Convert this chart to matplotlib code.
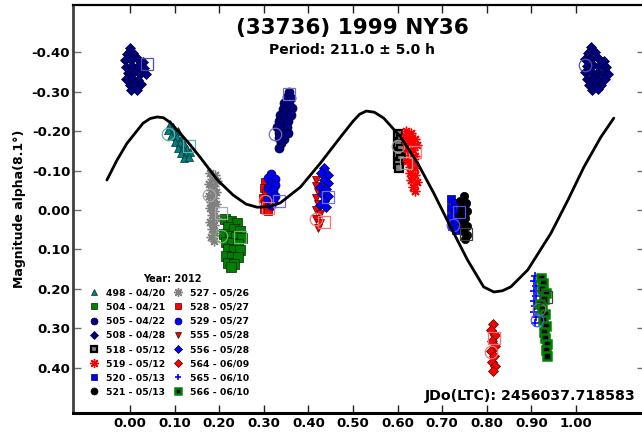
import matplotlib
matplotlib.use("Agg")
import matplotlib.pyplot as plt
from matplotlib.lines import Line2D

plt.rcParams['font.family'] = ['DejaVu Sans']

# ---------------- data ----------------
x_ticks = [0.0, 0.1, 0.2, 0.3, 0.4, 0.5, 0.6, 0.7, 0.8, 0.9, 1.0]
x_labels = ["0.00", "0.10", "0.20", "0.30", "0.40", "0.50", "0.60", "0.70", "0.80", "0.90", "1.00"]
y_ticks = [-0.4, -0.3, -0.2, -0.1, 0.0, 0.1, 0.2, 0.3, 0.4]
y_labels = ["-0.40", "-0.30", "-0.20", "-0.10", "0.00", "0.10", "0.20", "0.30", "0.40"]

curve_phase = [-0.052, -0.030, -0.007, 0.029, 0.045, 0.061, 0.075, 0.090, 0.112, 0.135, 0.157, 0.196,
               0.231, 0.260, 0.285, 0.310, 0.337, 0.382, 0.427, 0.472, 0.500, 0.515, 0.530, 0.548,
               0.569, 0.607, 0.645, 0.681, 0.719, 0.757, 0.793, 0.816, 0.835, 0.854, 0.892, 0.944,
               0.982, 1.018, 1.056, 1.085]
curve_mag = [-0.076, -0.125, -0.169, -0.220, -0.232, -0.236, -0.234, -0.222, -0.195, -0.165, -0.134, -0.076,
             -0.038, -0.015, -0.007, -0.008, -0.018, -0.058, -0.119, -0.185, -0.225, -0.243, -0.251, -0.248,
             -0.233, -0.185, -0.119, -0.043, 0.043, 0.127, 0.195, 0.208, 0.205, 0.195, 0.152, 0.059,
             -0.025, -0.109, -0.185, -0.233]

# 498 - 04/20
s498_phase = [0.090, 0.097, 0.085, 0.099, 0.108, 0.092, 0.106, 0.115, 0.101, 0.112, 0.121, 0.108, 0.119,
              0.128, 0.115, 0.126, 0.135, 0.121, 0.133]
s498_mag = [-0.218, -0.210, -0.203, -0.198, -0.200, -0.188, -0.185, -0.180, -0.172, -0.170, -0.167, -0.157,
            -0.155, -0.155, -0.144, -0.142, -0.147, -0.132, -0.134]
# 504 - 04/21
s504_phase = [0.213, 0.227, 0.240, 0.220, 0.234, 0.247, 0.211, 0.225, 0.238, 0.252, 0.216, 0.229, 0.243,
              0.220, 0.234, 0.247, 0.216, 0.229, 0.243, 0.220, 0.234, 0.227]
s504_mag = [0.023, 0.028, 0.033, 0.043, 0.048, 0.054, 0.061, 0.066, 0.069, 0.071, 0.081, 0.084, 0.087,
            0.099, 0.102, 0.102, 0.117, 0.120, 0.120, 0.135, 0.137, 0.145]
# 505 - 04/22
s505_phase = [0.357, 0.351, 0.362, 0.346, 0.357, 0.342, 0.353, 0.364, 0.337, 0.348, 0.360, 0.333, 0.344,
              0.355, 0.330, 0.342, 0.353, 0.333, 0.344, 0.355, 0.335, 0.346, 0.339, 0.333]
s505_mag = [-0.299, -0.287, -0.284, -0.271, -0.269, -0.256, -0.254, -0.259, -0.241, -0.238, -0.241, -0.226,
            -0.223, -0.226, -0.211, -0.208, -0.211, -0.195, -0.193, -0.195, -0.183, -0.180, -0.170, -0.157]
# 508 - 04/28
s508_phase = [0.000, -0.007, 0.007, -0.011, 0.002, 0.016, 0.029, -0.009, 0.004, 0.018, 0.031, -0.004,
              0.009, 0.022, 0.036, -0.009, 0.004, 0.018, 0.000, 0.011, 0.025, 0.002, 0.016,
              1.034, 1.027, 1.043, 1.020, 1.034, 1.049, 1.063, 1.025, 1.038, 1.052, 1.067, 1.020,
              1.034, 1.047, 1.061, 1.072, 1.025, 1.038, 1.052, 1.065, 1.029, 1.043, 1.056, 1.036, 1.049]
s508_mag = [-0.411, -0.396, -0.399, -0.381, -0.381, -0.386, -0.375, -0.363, -0.365, -0.365, -0.360, -0.347,
            -0.350, -0.345, -0.345, -0.332, -0.332, -0.330, -0.317, -0.315, -0.320, -0.304, -0.304,
            -0.413, -0.398, -0.401, -0.383, -0.383, -0.386, -0.378, -0.365, -0.368, -0.365, -0.363, -0.350,
            -0.350, -0.347, -0.347, -0.345, -0.332, -0.332, -0.330, -0.332, -0.317, -0.315, -0.317, -0.304, -0.307]
# 518 - 05/12
s518_phase = [0.602, 0.607, 0.600, 0.607, 0.602, 0.607, 0.602, 0.604]
s518_mag = [-0.193, -0.180, -0.167, -0.155, -0.142, -0.129, -0.117, -0.106]
# 519 - 05/12
s519_phase = [0.620, 0.631, 0.616, 0.627, 0.638, 0.620, 0.631, 0.643, 0.622, 0.634, 0.627, 0.638, 0.622,
              0.634, 0.627, 0.638, 0.629, 0.640, 0.631, 0.643, 0.634, 0.640]
s519_mag = [-0.200, -0.195, -0.185, -0.183, -0.180, -0.170, -0.167, -0.165, -0.155, -0.152, -0.139, -0.137,
            -0.124, -0.122, -0.109, -0.106, -0.094, -0.089, -0.076, -0.071, -0.058, -0.048]
# 520 - 05/13
s520_phase = [0.719, 0.728, 0.719, 0.728, 0.719, 0.728, 0.721, 0.730]
s520_mag = [-0.028, -0.018, -0.005, 0.005, 0.018, 0.028, 0.041, 0.051]
# 521 - 05/13
s521_phase = [0.748, 0.739, 0.753, 0.744, 0.755, 0.739, 0.751, 0.744, 0.755, 0.746, 0.755, 0.751]
s521_mag = [-0.035, -0.023, -0.018, -0.005, 0.003, 0.013, 0.021, 0.033, 0.041, 0.054, 0.064, 0.074]
# 527 - 05/26
s527_phase = [0.180, 0.191, 0.184, 0.196, 0.178, 0.189, 0.182, 0.193, 0.178, 0.189, 0.182, 0.193, 0.180,
              0.189, 0.184, 0.193, 0.180, 0.189, 0.184, 0.191, 0.182, 0.189]
s527_mag = [-0.094, -0.089, -0.078, -0.073, -0.066, -0.061, -0.051, -0.045, -0.035, -0.030, -0.020, -0.015,
            -0.005, 0.003, 0.013, 0.021, 0.031, 0.038, 0.048, 0.059, 0.069, 0.079]
# 528 - 05/27
s528_phase = [0.303, 0.301, 0.306, 0.299, 0.308, 0.303, 0.312, 0.301, 0.310]
s528_mag = [-0.071, -0.056, -0.043, -0.030, -0.025, -0.015, -0.010, -0.002, 0.003]
# 529 - 05/27
s529_phase = [0.317, 0.310, 0.324, 0.315, 0.326, 0.310, 0.321, 0.315, 0.326, 0.310, 0.321, 0.317]
s529_mag = [-0.091, -0.081, -0.078, -0.068, -0.063, -0.056, -0.051, -0.040, -0.035, -0.028, -0.023, -0.012]
# 555 - 05/28
s555_phase = [0.418, 0.416, 0.422, 0.416, 0.422, 0.418, 0.425, 0.418, 0.427, 0.422]
s555_mag = [-0.076, -0.061, -0.045, -0.030, -0.015, 0.000, 0.010, 0.023, 0.033, 0.046]
# 556 - 05/28
s556_phase = [0.436, 0.429, 0.443, 0.434, 0.445, 0.427, 0.440, 0.431, 0.445, 0.436, 0.427, 0.440]
s556_mag = [-0.106, -0.094, -0.089, -0.076, -0.068, -0.058, -0.053, -0.040, -0.035, -0.023, -0.012, -0.007]
# 564 - 06/09
s564_phase = [0.813, 0.809, 0.818, 0.811, 0.818, 0.809, 0.816, 0.811, 0.818, 0.813]
s564_mag = [0.290, 0.305, 0.318, 0.333, 0.345, 0.358, 0.371, 0.386, 0.396, 0.409]
# 565 - 06/10
s565_phase = [0.908, 0.906, 0.910, 0.906, 0.910, 0.906, 0.908, 0.906, 0.910, 0.908]
s565_mag = [0.168, 0.180, 0.193, 0.206, 0.218, 0.231, 0.244, 0.259, 0.272, 0.287]
# 566 - 06/10
s566_phase = [0.921, 0.926, 0.924, 0.933, 0.928, 0.919, 0.924, 0.930, 0.926, 0.933, 0.928, 0.930, 0.935,
              0.933, 0.935]
s566_mag = [0.173, 0.186, 0.201, 0.211, 0.226, 0.239, 0.252, 0.264, 0.279, 0.295, 0.310, 0.325, 0.340,
            0.355, 0.371]

# open first/last point markers
open_circle_phase = [0.085, 0.178, 0.204, 0.324, 0.303, 0.416, 0.602, 0.724, 0.809, 0.917, 0.912, 1.020]
open_circle_mag = [-0.193, -0.038, 0.066, -0.193, -0.023, 0.023, -0.162, 0.038, 0.360, 0.252, 0.279, -0.368]
open_circle_color = ['#60b0b0', '#a8a8a8', '#70b070', '#7070c8', '#ff7070', '#ff7070', '#a0a0a0',
                     '#5050ff', '#ff7070', '#707070', '#5050ff', '#5050b0']
open_square_phase = [0.038, 0.133, 0.204, 0.247, 0.357, 0.310, 0.335, 0.445, 0.436, 0.620, 0.640,
                     0.737, 0.753, 0.816, 0.933]
open_square_mag = [-0.370, -0.162, 0.008, 0.069, -0.294, -0.005, -0.023, -0.033, 0.031, -0.119, -0.147,
                   0.005, 0.061, 0.325, 0.221]
open_square_color = ['#5050b0', '#60b0b0', '#a8a8a8', '#70b070', '#7070c8', '#ff7070', '#7070ff',
                     '#7070ff', '#ff7070', '#a0a0a0', '#ff8080', '#5050ff', '#404040', '#ff7070', '#404040']

AST = (8, 2, 0)
sessions = [
    ("498 - 04/20", s498_phase, s498_mag, dict(marker='^', mfc='#008080', mec='#003030', mew=0.5, ms=6)),
    ("504 - 04/21", s504_phase, s504_mag, dict(marker='s', mfc='#008000', mec='#002000', mew=0.5, ms=6.5)),
    ("505 - 04/22", s505_phase, s505_mag, dict(marker='o', mfc='#000080', mec='#000030', mew=0.5, ms=6.5)),
    ("508 - 04/28", s508_phase, s508_mag, dict(marker='D', mfc='#000080', mec='#000030', mew=0.5, ms=5.5)),
    ("518 - 05/12", s518_phase, s518_mag, dict(marker='s', mfc='#808080', mec='black', mew=1.6, ms=5.5)),
    ("519 - 05/12", s519_phase, s519_mag, dict(marker=AST, mfc='red', mec='red', mew=1.0, ms=7)),
    ("520 - 05/13", s520_phase, s520_mag, dict(marker='s', mfc='#0000ff', mec='#000040', mew=0.5, ms=6)),
    ("521 - 05/13", s521_phase, s521_mag, dict(marker='o', mfc='black', mec='black', mew=0.5, ms=6)),
    ("527 - 05/26", s527_phase, s527_mag, dict(marker=AST, mfc='#808080', mec='#808080', mew=1.0, ms=7)),
    ("528 - 05/27", s528_phase, s528_mag, dict(marker='s', mfc='red', mec='#400000', mew=0.5, ms=6)),
    ("529 - 05/27", s529_phase, s529_mag, dict(marker='o', mfc='#0000ff', mec='#000040', mew=0.5, ms=6.5)),
    ("555 - 05/28", s555_phase, s555_mag, dict(marker='v', mfc='red', mec='#400000', mew=0.5, ms=6)),
    ("556 - 05/28", s556_phase, s556_mag, dict(marker='D', mfc='#0000ff', mec='#000040', mew=0.5, ms=5.5)),
    ("564 - 06/09", s564_phase, s564_mag, dict(marker='D', mfc='red', mec='#400000', mew=0.5, ms=5.5)),
    ("565 - 06/10", s565_phase, s565_mag, dict(marker='+', mfc='#0000ff', mec='#0000ff', mew=1.2, ms=6)),
    ("566 - 06/10", s566_phase, s566_mag, dict(marker='s', mfc='black', mec='#008000', mew=1.8, ms=5.5)),
]

fig = plt.figure(figsize=(6.42, 4.33), dpi=100)
ax = fig.add_axes([73 / 642, 1 - 413 / 433, (645 - 73) / 642, (413 - 5) / 433])

for label, ph, mg, st in sessions:
    ax.plot(ph, mg, ls='none', zorder=3, **st)

for p, m, c in zip(open_circle_phase, open_circle_mag, open_circle_color):
    ax.plot([p], [m], ls='none', marker='o', ms=9, mfc='none', mec=c, mew=0.9, zorder=4)
for p, m, c in zip(open_square_phase, open_square_mag, open_square_color):
    ax.plot([p], [m], ls='none', marker='s', ms=9, mfc='none', mec=c, mew=0.9, zorder=4)

ax.plot(curve_phase, curve_mag, color='black', lw=2.0, zorder=5, solid_capstyle='round')

ax.set_xlim(-0.128, 1.155)
ax.set_ylim(0.515, -0.520)

ax.set_xticks(x_ticks)
ax.set_xticklabels(x_labels, fontsize=9.5, fontweight='bold')
ax.set_yticks(y_ticks)
ax.set_yticklabels(y_labels, fontsize=9.5, fontweight='bold')
ax.tick_params(axis='both', direction='in', length=6, width=1, top=True, right=True,
               labeltop=False, labelright=False)
ax.tick_params(axis='y', colors='#707070', labelcolor='black', pad=2)
ax.tick_params(axis='x', colors='#202020', labelcolor='black', pad=3)

ax.spines['left'].set_linewidth(2.0)
ax.spines['left'].set_color('#404040')
ax.spines['top'].set_linewidth(1.6)
ax.spines['bottom'].set_linewidth(2.2)
ax.spines['right'].set_visible(False)

ax.set_ylabel("Magnitude alpha(8.1°)", fontsize=9, fontweight='bold', labelpad=4)

fig.text(352 / 642, 1 - 28 / 433, "(33736) 1999 NY36", fontsize=15.5, fontweight='bold',
         ha='center', va='center')
fig.text(352 / 642, 1 - 50 / 433, "Period: 211.0 ± 5.0 h", fontsize=10, fontweight='bold',
         ha='center', va='center')
fig.text(636 / 642, 1 - 396 / 433, "JDo(LTC): 2456037.718583", fontsize=10.2, fontweight='bold',
         ha='right', va='center')

handles = []
labels = []
for label, ph, mg, st in sessions:
    s = dict(st)
    s['ms'] = 5 if s['marker'] not in ('D',) else 4.2
    if s['marker'] == AST:
        s['ms'] = 6.5
    handles.append(Line2D([], [], ls='none', **s))
    labels.append(label)

fig.text(172 / 642, 1 - 279 / 433, "Year: 2012", fontsize=7, fontweight='bold',
         ha='center', va='center')
leg = ax.legend(handles, labels, ncol=2, loc='upper left', bbox_to_anchor=(0.027, 0.305),
                frameon=False, prop={'weight': 'bold', 'size': 6.7}, handlelength=1.2,
                handletextpad=0.7, columnspacing=0.8, labelspacing=0.55, borderpad=0,
                borderaxespad=0)

fig.savefig("out.png", dpi=100)
